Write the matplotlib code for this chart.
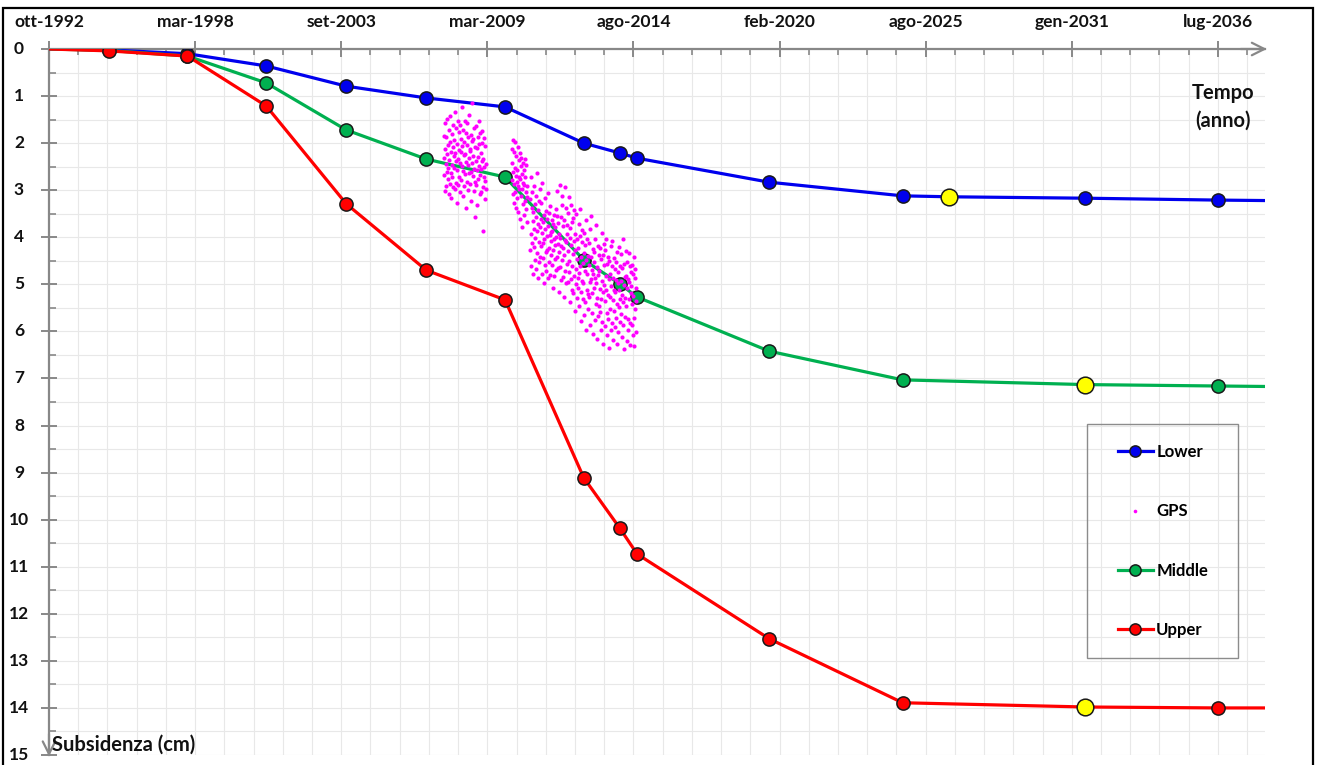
import numpy as np
import matplotlib
matplotlib.use("Agg")
import matplotlib.pyplot as plt
from matplotlib.ticker import FixedLocator, MultipleLocator
from matplotlib.patches import Rectangle

plt.rcParams['font.family'] = ['Lato', 'DejaVu Sans']

# ---------------- data ----------------
x_start = 1992.76            # ott-1992 (axis origin, decimal years)
x_end = 2038.33
major_step = 2000 / 365.25   # Excel major unit: 2000 days
tick_labels = ["ott-1992", "mar-1998", "set-2003", "mar-2009", "ago-2014",
               "feb-2020", "ago-2025", "gen-2031", "lug-2036"]

lower_x = [1992.76, 1995.0, 1997.95, 2000.9, 2003.9, 2006.9, 2009.85, 2012.8,
           2014.15, 2014.8, 2019.75, 2024.75, 2026.5, 2031.6, 2036.55, 2038.33]
lower_y = [0.0, 0.02, 0.10, 0.36, 0.79, 1.04, 1.23, 2.00,
           2.21, 2.32, 2.83, 3.12, 3.14, 3.17, 3.21, 3.22]

middle_x = [1992.76, 1995.0, 1997.95, 2000.9, 2003.9, 2006.9, 2009.85, 2012.8,
            2014.15, 2014.8, 2019.75, 2024.75, 2031.6, 2036.55, 2038.33]
middle_y = [0.0, 0.03, 0.15, 0.72, 1.72, 2.34, 2.72, 4.48,
            4.99, 5.27, 6.42, 7.03, 7.13, 7.16, 7.17]

upper_x = [1992.76, 1995.0, 1997.95, 2000.9, 2003.9, 2006.9, 2009.85, 2012.8,
           2014.15, 2014.8, 2019.75, 2024.75, 2031.6, 2036.55, 2038.33]
upper_y = [0.0, 0.04, 0.15, 1.21, 3.29, 4.70, 5.33, 9.11,
           10.18, 10.73, 12.53, 13.89, 13.98, 14.0, 14.0]

yellow_x = [2026.5, 2031.6, 2031.6]
yellow_y = [3.14, 7.13, 13.98]

# GPS time series: (start year, observed values), sampled every gps_step years
gps_step = 0.0125
gps_segments = [
    (2007.55, """
2.31 1.84 2.68 2.13 3.02 1.57 2.44 2.91 1.86 2.23 2.62 1.49 2.77 2.05 2.53 3.08
1.72 2.36 2.87 1.98 1.43 2.64 2.19 3.17 1.81 2.46 2.73 1.62 2.08 2.94 2.27 1.93
2.52 2.97 1.33 2.21 2.84 1.68 2.39 2.02 3.28 2.57 1.54 2.34 2.88 1.76 2.14 2.71
2.43 1.61 3.04 2.18 1.91 2.79 1.24 2.48 2.07 3.13 1.73 2.59 2.26 1.97 2.92 1.52
2.66 2.24 3.37 1.79 2.41 2.03 2.83 1.58 2.47 2.99 1.88 2.32 2.63 1.41 2.12 2.86
2.17 1.83 2.61 3.23 1.96 2.42 1.14 2.69 2.28 1.92 3.01 2.54 1.67 2.82 2.09 3.58
2.38 1.63 2.89 2.11 2.58 3.31 1.87 2.29 2.76 1.53 2.49 2.01 3.09 2.67 1.78 2.22
2.56 3.03 1.99 2.37 1.74 2.93 3.87 2.33 2.72 1.89 2.51 3.19 2.06 2.81 2.44 2.98
"""),
    (2010.10, """
2.12 2.79 2.43 3.08 1.94 2.61 3.27 2.18 2.86 2.52 3.03 1.98 2.69 3.38 2.27 2.83
2.57 3.16 2.09 2.92 3.47 2.36 2.73 2.98 2.21 3.62 2.77 2.48 3.12 2.31 3.79 2.66
2.97 2.42 3.29 2.84 2.58 3.53 2.88 2.34 3.22 2.71 3.41 3.04 2.46 3.68 2.91 3.14
"""),
    (2010.78, """
3.18 4.27 2.71 3.93 4.62 3.38 3.04 4.13 3.66 4.79 3.47 2.92 4.21 3.83 4.48 3.29
4.02 3.13 4.68 3.57 2.63 4.34 3.87 3.42 4.86 3.71 4.09 3.24 4.53 3.78 2.97 4.41
3.62 4.19 3.27 4.77 3.91 2.84 4.43 3.68 4.12 3.53 4.97 4.04 3.16 4.58 3.82 4.32
3.44 4.71 3.98 3.61 4.28 3.07 4.87 3.76 4.23 3.49 4.52 3.96 3.34 4.81 3.88 4.37
4.07 3.63 4.59 3.86 5.08 3.72 4.26 4.03 3.52 4.83 4.17 3.79 4.46 3.41 4.69 3.99
3.54 4.42 3.02 4.66 4.14 3.69 5.17 3.93 4.31 2.88 4.63 4.01 3.58 4.91 4.18 3.31
4.49 3.12 4.84 3.77 4.22 5.26 3.64 4.38 2.93 4.06 4.72 3.37 4.98 4.11 3.73 4.57
3.92 4.96 4.29 3.48 4.74 3.14 4.51 5.37 4.02 3.81 4.88 4.16 3.32 4.61 5.13 3.67
4.36 3.59 5.18 4.08 4.82 3.43 5.57 4.27 3.94 4.67 4.99 3.51 4.47 5.28 4.04 4.86
4.23 5.07 3.72 4.76 5.46 3.98 4.61 3.39 5.16 4.42 5.78 4.09 4.93 3.84 5.31 4.54
4.97 4.33 5.66 3.91 4.72 5.38 4.17 5.97 4.48 3.63 5.12 4.77 4.03 5.52 4.39 5.21
4.13 5.27 4.58 3.82 4.96 5.87 4.41 4.88 3.54 5.61 4.69 5.18 4.24 6.06 4.79 4.31
5.08 4.52 5.76 4.03 4.87 5.42 3.73 4.98 6.17 4.63 5.29 4.18 5.68 4.81 4.37 5.47
4.71 5.58 4.23 5.09 5.96 4.47 5.32 3.91 4.92 5.81 4.38 5.17 6.27 4.59 5.02 4.14
5.36 4.28 5.88 4.83 5.12 4.04 5.61 6.08 4.57 5.23 4.42 5.73 4.89 6.36 4.51 5.27
4.78 5.52 4.19 5.97 5.04 4.62 5.83 4.07 5.34 4.86 6.18 4.43 5.57 5.11 4.68 5.91
5.17 4.53 5.72 4.91 6.26 4.32 5.41 4.97 4.73 6.02 5.48 4.21 5.13 5.79 4.61 5.32
4.93 5.63 4.36 6.12 5.22 4.66 5.87 4.03 5.38 5.01 6.38 4.57 5.28 4.84 5.69 4.29
5.46 4.82 6.21 5.07 4.52 5.74 4.88 5.98 4.34 5.31 4.96 5.83 4.62 6.29 5.19 4.73
5.03 5.86 4.59 5.42 6.07 4.77 5.24 4.41 5.72 6.31 4.87 5.53 4.68 6.01 5.08 5.36
"""),
]

gps_x, gps_y = [], []
for start, txt in gps_segments:
    vals = [float(v) for v in txt.split()]
    gps_x.extend(start + gps_step * i for i in range(len(vals)))
    gps_y.extend(vals)

# ---------------- figure ----------------
W, H = 1317, 765
fig = plt.figure(figsize=(W / 100, H / 100), dpi=100)
ax = fig.add_axes([49 / W, 10 / H, 1216 / W, 706 / H])

axis_gray = '#888888'
blue, green, red = '#0000EE', '#00B050', '#FF0000'
edge = '#1A1A1A'

ax.set_xlim(x_start, x_end)
ax.set_ylim(15, 0)

major_ticks = [x_start + k * major_step for k in range(len(tick_labels))]
minor_ticks = [x_start + k * major_step / 5 for k in range(0, 42)]
ax.xaxis.set_major_locator(FixedLocator(major_ticks))
ax.xaxis.set_minor_locator(FixedLocator(minor_ticks))
ax.yaxis.set_major_locator(MultipleLocator(1))
ax.yaxis.set_minor_locator(MultipleLocator(0.5))
ax.xaxis.set_ticks_position('top')
ax.tick_params(axis='both', which='both', labelleft=False, labeltop=False,
               labelbottom=False, colors=axis_gray)
ax.tick_params(axis='x', which='major', direction='inout', length=11, width=1.4)
ax.tick_params(axis='x', which='minor', direction='in', length=4, width=1.2)
ax.tick_params(axis='y', which='major', direction='inout', length=11, width=1.4)
ax.tick_params(axis='y', which='minor', direction='in', length=5, width=1.2)

ax.grid(which='both', color='#E8E8E8', lw=0.8, zorder=0)
ax.set_axisbelow(True)

for s in ['right', 'bottom']:
    ax.spines[s].set_visible(False)
for s in ['top', 'left']:
    ax.spines[s].set_color(axis_gray)
    ax.spines[s].set_linewidth(1.6)

# arrows at axis ends
ax.annotate('', xy=(1.0015, 1), xytext=(0.98, 1), xycoords='axes fraction',
            arrowprops=dict(arrowstyle='->,head_length=0.9,head_width=0.45',
                            color=axis_gray, lw=1.6, shrinkA=0, shrinkB=0),
            annotation_clip=False)
ax.annotate('', xy=(0, -0.002), xytext=(0, 0.03), xycoords='axes fraction',
            arrowprops=dict(arrowstyle='->,head_length=0.9,head_width=0.45',
                            color=axis_gray, lw=1.6, shrinkA=0, shrinkB=0),
            annotation_clip=False)

# tick labels
lab_font = dict(fontsize=12.5, fontweight='bold', color='#111111')
for xt, lab in zip(major_ticks, tick_labels):
    ax.text(xt, 1.038, lab, transform=ax.get_xaxis_transform(),
            ha='center', va='center', clip_on=False, **lab_font)
for yv in range(0, 16):
    ax.text(-0.0247, yv, str(yv), transform=ax.get_yaxis_transform(),
            ha='center', va='center', clip_on=False, **lab_font)

# series
ms, mew, lw = 9.5, 1.1, 2.3
l_lower, = ax.plot(lower_x, lower_y, '-o', color=blue, lw=lw, ms=ms,
                   mfc=blue, mec=edge, mew=mew, markevery=slice(1, -1),
                   zorder=3, label='Lower')
l_middle, = ax.plot(middle_x, middle_y, '-o', color=green, lw=lw, ms=ms,
                    mfc=green, mec=edge, mew=mew, markevery=slice(1, -1),
                    zorder=3, label='Middle')
l_gps, = ax.plot(gps_x, gps_y, 'o', ls='none', color='#FF00FF', ms=3.0,
                 mew=0, zorder=4, label='GPS')
l_upper, = ax.plot(upper_x, upper_y, '-o', color=red, lw=lw, ms=ms,
                   mfc=red, mec=edge, mew=mew, markevery=slice(1, -1),
                   zorder=5, label='Upper')
ax.plot(yellow_x, yellow_y, 'o', ls='none', ms=12, mfc='#FFFF00', mec=edge,
        mew=1.1, zorder=6)

# legend (entries) + separate box frame
leg = ax.legend(handles=[l_lower, l_gps, l_middle, l_upper],
                loc='upper left', bbox_to_anchor=(0.879, 0.4405),
                frameon=False, borderpad=0.0, borderaxespad=0.0,
                labelspacing=2.6, handlelength=2.1, handletextpad=0.2,
                markerscale=0.85,
                prop=dict(family=['Lato', 'DejaVu Sans'], weight='bold', size=12))
for h in leg.legend_handles:
    if h.get_label() == 'GPS':
        h.set_markersize(2.6)
ax.add_patch(Rectangle((0.854, 0.1374), 0.1234, 0.3314, transform=ax.transAxes,
                       fill=False, edgecolor='#8C8C8C', lw=1.0, zorder=7))

# axis titles
ax.text(0.9655, 0.918, 'Tempo\n(anno)', transform=ax.transAxes, ha='center',
        va='center', fontsize=14.5, fontweight='bold', color='#111111',
        linespacing=1.45)
ax.text(0.0025, 0.0142, 'Subsidenza (cm)', transform=ax.transAxes, ha='left',
        va='center', fontsize=14.5, fontweight='bold', color='#111111',
        clip_on=False)

# outer frame
fig.patches.append(Rectangle((3 / W, -0.05), 1310 / W, 1 - 8 / H + 0.05,
                             transform=fig.transFigure, fill=False,
                             edgecolor='black', lw=1.6))

fig.savefig('out.png', dpi=100)
